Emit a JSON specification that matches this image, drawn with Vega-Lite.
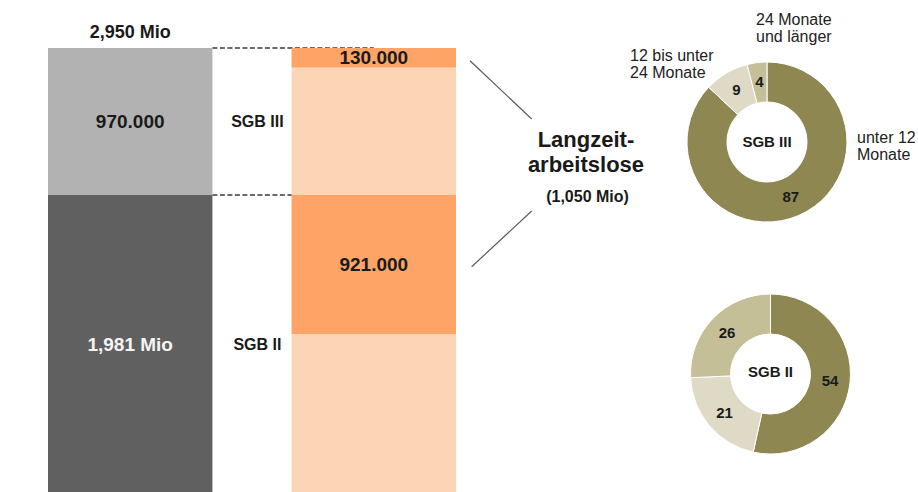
{
  "$schema": "https://vega.github.io/schema/vega-lite/v6.json",
  "width": 918,
  "height": 492,
  "padding": 0,
  "autosize": {"type": "none"},
  "background": "#ffffff",
  "config": {"view": {"stroke": null}, "font": "Liberation Sans", "text": {"font": "Liberation Sans", "color": "#1a1a1a"}},
  "datasets": {
    "balken": [
      {"spalte": "Arbeitslose", "rechtskreis": "SGB III", "segment": "Arbeitslose SGB III", "wert": 970, "anzeige": "970.000"},
      {"spalte": "Arbeitslose", "rechtskreis": "SGB II", "segment": "Arbeitslose SGB II", "wert": 1981, "anzeige": "1,981 Mio"},
      {"spalte": "Langzeitarbeitslose", "rechtskreis": "SGB III", "segment": "Langzeitarbeitslose SGB III", "wert": 130, "anzeige": "130.000"},
      {"spalte": "Langzeitarbeitslose", "rechtskreis": "SGB III", "segment": "übrige Arbeitslose SGB III", "wert": 840, "anzeige": null},
      {"spalte": "Langzeitarbeitslose", "rechtskreis": "SGB II", "segment": "Langzeitarbeitslose SGB II", "wert": 921, "anzeige": "921.000"},
      {"spalte": "Langzeitarbeitslose", "rechtskreis": "SGB II", "segment": "übrige Arbeitslose SGB II", "wert": 1060, "anzeige": null}
    ],
    "summe": [{"spalte": "Arbeitslose", "wert": 2950, "anzeige": "2,950 Mio"}],
    "langzeit": [{"wert": 1050, "anzeige": "(1,050 Mio)"}],
    "dauer": [
      {"rechtskreis": "SGB III", "dauer": "unter 12 Monate", "anteil": 87},
      {"rechtskreis": "SGB III", "dauer": "12 bis unter 24 Monate", "anteil": 9},
      {"rechtskreis": "SGB III", "dauer": "24 Monate und länger", "anteil": 4},
      {"rechtskreis": "SGB II", "dauer": "unter 12 Monate", "anteil": 54},
      {"rechtskreis": "SGB II", "dauer": "12 bis unter 24 Monate", "anteil": 21},
      {"rechtskreis": "SGB II", "dauer": "24 Monate und länger", "anteil": 26}
    ]
  },
  "resolve": {"scale": {"x": "independent", "y": "independent", "color": "independent"}},
  "layer": [
    {
      "data": {"name": "balken"},
      "transform": [
        {"stack": "wert", "groupby": ["spalte"], "sort": [{"field": "rechtskreis", "order": "descending"}, {"field": "segment", "order": "ascending"}], "as": ["y0", "y1"]},
        {"calculate": "(datum.y0 + datum.y1) / 2", "as": "mitte"}
      ],
      "layer": [
        {
          "transform": [{"filter": "datum.spalte === 'Arbeitslose' && datum.rechtskreis === 'SGB III'"}],
          "mark": {"type": "rule", "strokeDash": [5, 2.5], "strokeWidth": 1.6, "color": "#3a3a3a"},
          "encoding": {
            "x": {"datum": "Arbeitslose", "type": "nominal", "bandPosition": 1, "scale": {"type": "band", "domain": ["Arbeitslose", "Langzeitarbeitslose"], "range": [48, 456], "paddingInner": 0.325, "paddingOuter": 0}, "axis": null},
            "x2": {"datum": "Langzeitarbeitslose"},
            "y": {"field": "y0", "type": "quantitative", "scale": {"domain": [-316.7347, 2929.7959], "reverse": true, "zero": false, "nice": false}, "axis": null}
          }
        },
        {
          "transform": [{"filter": "datum.spalte === 'Arbeitslose' && datum.rechtskreis === 'SGB III'"}],
          "mark": {"type": "rule", "strokeDash": [5, 2.5], "strokeWidth": 1.6, "color": "#3a3a3a"},
          "encoding": {
            "x": {"datum": "Arbeitslose", "type": "nominal", "bandPosition": 1, "axis": null},
            "x2": {"datum": "Langzeitarbeitslose"},
            "y": {"field": "y1", "type": "quantitative", "axis": null}
          }
        },
        {
          "mark": {"type": "bar"},
          "encoding": {
            "x": {"field": "spalte", "type": "nominal", "scale": {"type": "band", "domain": ["Arbeitslose", "Langzeitarbeitslose"], "range": [48, 456], "paddingInner": 0.325, "paddingOuter": 0}, "axis": null},
            "y": {"field": "y0", "type": "quantitative", "axis": null},
            "y2": {"field": "y1"},
            "color": {"field": "segment", "type": "nominal", "legend": null,
              "scale": {"domain": ["Arbeitslose SGB III", "Arbeitslose SGB II", "Langzeitarbeitslose SGB III", "übrige Arbeitslose SGB III", "Langzeitarbeitslose SGB II", "übrige Arbeitslose SGB II"],
                        "range": ["#b2b2b2", "#606060", "#fda466", "#fcd5b5", "#fda466", "#fcd5b5"]}}
          }
        },
        {
          "transform": [{"filter": "isValid(datum.anzeige)"}],
          "mark": {"type": "text", "fontSize": 19, "fontWeight": "bold", "align": "center", "baseline": "middle"},
          "encoding": {
            "x": {"field": "spalte", "type": "nominal", "axis": null},
            "y": {"field": "mitte", "type": "quantitative", "axis": null},
            "text": {"field": "anzeige"},
            "color": {"condition": {"test": "datum.segment === 'Arbeitslose SGB II'", "value": "#f4f4f4"}, "value": "#1a1a1a"}
          }
        },
        {
          "transform": [{"filter": "datum.spalte === 'Arbeitslose'"}],
          "mark": {"type": "text", "fontSize": 16, "fontWeight": "bold", "align": "center", "baseline": "middle", "dx": 45},
          "encoding": {
            "x": {"field": "spalte", "type": "nominal", "bandPosition": 1, "axis": null},
            "y": {"field": "mitte", "type": "quantitative", "axis": null},
            "text": {"field": "rechtskreis"}
          }
        },
        {
          "data": {"name": "summe"},
          "mark": {"type": "text", "fontSize": 18, "fontWeight": "bold", "align": "center", "baseline": "alphabetic", "dy": -10},
          "encoding": {
            "x": {"field": "spalte", "type": "nominal", "axis": null},
            "y": {"datum": 0, "type": "quantitative", "axis": null},
            "text": {"field": "anzeige"}
          }
        }
      ]
    },
    {
      "layer": [
        {
          "data": {"name": "langzeit"},
          "mark": {"type": "rule", "color": "#5a5a5a", "strokeWidth": 1.2},
          "encoding": {
            "x": {"datum": 0.512, "type": "quantitative", "scale": {"domain": [0, 1], "zero": false, "nice": false}, "axis": null},
            "x2": {"datum": 0.5792},
            "y": {"datum": 0.1234, "type": "quantitative", "scale": {"domain": [0, 1], "reverse": true, "zero": false, "nice": false}, "axis": null},
            "y2": {"datum": 0.2419}
          }
        },
        {
          "data": {"name": "langzeit"},
          "mark": {"type": "rule", "color": "#5a5a5a", "strokeWidth": 1.2},
          "encoding": {
            "x": {"datum": 0.5138, "type": "quantitative", "axis": null},
            "x2": {"datum": 0.5792},
            "y": {"datum": 0.5421, "type": "quantitative", "axis": null},
            "y2": {"datum": 0.4289}
          }
        },
        {
          "data": {"name": "langzeit"},
          "mark": {"type": "text", "text": ["Langzeit-", "arbeitslose"], "fontSize": 22, "fontWeight": "bold", "align": "center", "baseline": "alphabetic", "lineHeight": 25},
          "encoding": {
            "x": {"datum": 0.6383, "type": "quantitative", "axis": null},
            "y": {"datum": 0.2982, "type": "quantitative", "axis": null}
          }
        },
        {
          "data": {"name": "langzeit"},
          "mark": {"type": "text", "fontSize": 16, "fontWeight": "bold", "align": "center", "baseline": "alphabetic"},
          "encoding": {
            "x": {"datum": 0.64, "type": "quantitative", "axis": null},
            "y": {"datum": 0.41, "type": "quantitative", "axis": null},
            "text": {"field": "anzeige"}
          }
        },
        {
          "data": {"name": "dauer"},
          "transform": [
            {"filter": "datum.rechtskreis === 'SGB III'"},
            {"calculate": "indexof(['unter 12 Monate', '12 bis unter 24 Monate', '24 Monate und länger'], datum.dauer)", "as": "rang"},
            {"stack": "anteil", "groupby": ["rechtskreis"], "sort": [{"field": "rang", "order": "ascending"}], "offset": "normalize", "as": ["t0", "t1"]},
            {"calculate": "(datum.t0 + datum.t1) / 2", "as": "tm"}
          ],
          "encoding": {
            "x": {"datum": 0.8355, "type": "quantitative", "axis": null},
            "y": {"datum": 0.2886, "type": "quantitative", "axis": null}
          },
          "layer": [
            {
              "mark": {"type": "arc", "radius": 80, "innerRadius": 40, "stroke": "#ffffff", "strokeWidth": 1},
              "encoding": {
                "theta": {"field": "t0", "type": "quantitative", "scale": {"domain": [0, 1]}, "stack": null},
                "theta2": {"field": "t1"},
                "color": {"field": "dauer", "type": "nominal", "legend": null,
                  "scale": {"domain": ["unter 12 Monate", "12 bis unter 24 Monate", "24 Monate und länger"], "range": ["#8f8752", "#dedac6", "#c5bf98"]}}
              }
            },
            {
              "mark": {"type": "text", "radius": 60, "fontSize": 15, "fontWeight": "bold", "align": "center", "baseline": "middle"},
              "encoding": {
                "theta": {"field": "tm", "type": "quantitative", "scale": {"domain": [0, 1]}},
                "text": {"field": "anteil", "type": "quantitative"}
              }
            },
            {
              "transform": [{"filter": "datum.rang === 0"}],
              "mark": {"type": "text", "fontSize": 15, "fontWeight": "bold", "align": "center", "baseline": "middle"},
              "encoding": {"text": {"field": "rechtskreis"}}
            },
            {
              "transform": [{"filter": "datum.dauer === 'unter 12 Monate'"}],
              "mark": {"type": "text", "text": ["unter 12", "Monate"], "fontSize": 16, "align": "left", "baseline": "alphabetic", "lineHeight": 17, "dx": 90, "dy": 1, "color": "#222222"}
            },
            {
              "transform": [{"filter": "datum.dauer === '12 bis unter 24 Monate'"}],
              "mark": {"type": "text", "text": ["12 bis unter", "24 Monate"], "fontSize": 16, "align": "left", "baseline": "alphabetic", "lineHeight": 17, "dx": -137, "dy": -81, "color": "#222222"}
            },
            {
              "transform": [{"filter": "datum.dauer === '24 Monate und länger'"}],
              "mark": {"type": "text", "text": ["24 Monate", "und länger"], "fontSize": 16, "align": "left", "baseline": "alphabetic", "lineHeight": 17, "dx": -11, "dy": -117, "color": "#222222"}
            }
          ]
        },
        {
          "data": {"name": "dauer"},
          "transform": [
            {"filter": "datum.rechtskreis === 'SGB II'"},
            {"calculate": "indexof(['unter 12 Monate', '12 bis unter 24 Monate', '24 Monate und länger'], datum.dauer)", "as": "rang"},
            {"stack": "anteil", "groupby": ["rechtskreis"], "sort": [{"field": "rang", "order": "ascending"}], "offset": "normalize", "as": ["t0", "t1"]},
            {"calculate": "(datum.t0 + datum.t1) / 2", "as": "tm"}
          ],
          "encoding": {
            "x": {"datum": 0.8393, "type": "quantitative", "axis": null},
            "y": {"datum": 0.7602, "type": "quantitative", "axis": null}
          },
          "layer": [
            {
              "mark": {"type": "arc", "radius": 80, "innerRadius": 40, "stroke": "#ffffff", "strokeWidth": 1},
              "encoding": {
                "theta": {"field": "t0", "type": "quantitative", "scale": {"domain": [0, 1]}, "stack": null},
                "theta2": {"field": "t1"},
                "color": {"field": "dauer", "type": "nominal", "legend": null}
              }
            },
            {
              "mark": {"type": "text", "radius": 60, "fontSize": 15, "fontWeight": "bold", "align": "center", "baseline": "middle"},
              "encoding": {
                "theta": {"field": "tm", "type": "quantitative", "scale": {"domain": [0, 1]}},
                "text": {"field": "anteil", "type": "quantitative"}
              }
            },
            {
              "transform": [{"filter": "datum.rang === 0"}],
              "mark": {"type": "text", "fontSize": 15, "fontWeight": "bold", "align": "center", "baseline": "middle", "dy": -2},
              "encoding": {"text": {"field": "rechtskreis"}}
            }
          ]
        }
      ]
    }
  ]
}
